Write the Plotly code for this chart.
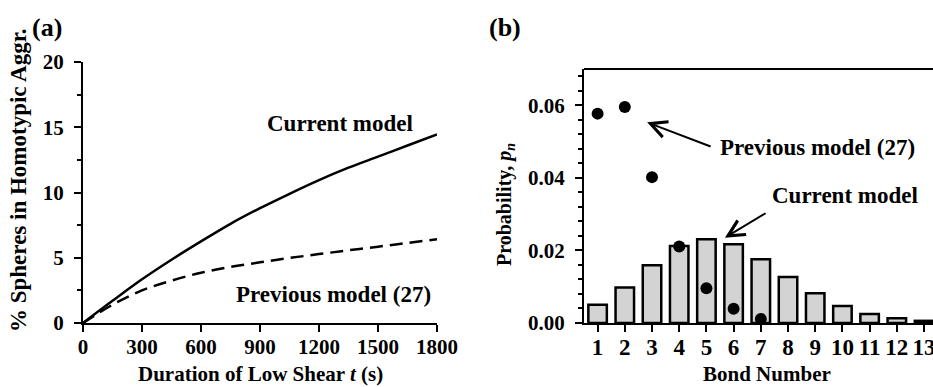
import plotly.graph_objects as go

# ---- Panel (a) data ----
t_s = [0, 150, 300, 450, 600, 750, 900, 1050, 1200, 1350, 1500, 1650, 1800]
current_pct = [0, 1.7, 3.35, 4.85, 6.25, 7.6, 8.8, 9.9, 10.95, 11.9, 12.75, 13.6, 14.45]
previous_pct = [0, 1.4, 2.5, 3.25, 3.85, 4.3, 4.65, 4.98, 5.28, 5.57, 5.85, 6.13, 6.42]
x_ticks_a = [0, 300, 600, 900, 1200, 1500, 1800]

# ---- Panel (b) data ----
bond_number = list(range(1, 14))
current_pn = [0.0050, 0.0098, 0.0159, 0.0212, 0.0231, 0.0217, 0.0176,
              0.0127, 0.0082, 0.0047, 0.0025, 0.0013, 0.0006]
prev_bonds = [1, 2, 3, 4, 5, 6, 7]
previous_pn = [0.0577, 0.0595, 0.0402, 0.0211, 0.0096, 0.0039, 0.0011]
y_ticks_b = [0.00, 0.02, 0.04, 0.06]

FONT = "Liberation Serif"
W, H = 933, 387

fig = go.Figure()

fig.add_trace(go.Scatter(x=t_s, y=current_pct, mode="lines", line=dict(color="black", width=2.5, shape="spline"),
                         xaxis="x", yaxis="y", showlegend=False))
fig.add_trace(go.Scatter(x=t_s, y=previous_pct, mode="lines",
                         line=dict(color="black", width=2.5, dash="13px,7px", shape="spline"),
                         xaxis="x", yaxis="y", showlegend=False))

fig.add_trace(go.Bar(x=bond_number, y=current_pn, width=0.68,
                     marker=dict(color="#d3d3d3", line=dict(color="black", width=2.5)),
                     xaxis="x2", yaxis="y2", showlegend=False))
fig.add_trace(go.Scatter(x=prev_bonds, y=previous_pn, mode="markers",
                         marker=dict(color="black", size=12),
                         xaxis="x2", yaxis="y2", showlegend=False, cliponaxis=False))

def px_x(p):
    return p / W

def px_y(p):
    return 1 - p / H

tickfont_a = dict(family=FONT, size=21, color="black", weight="bold")
axis_common = dict(showgrid=False, zeroline=False, showline=True, linecolor="black", linewidth=2,
                   ticks="outside", tickcolor="black", tickwidth=2, ticklen=7, automargin=False,
                   ticklabeloverflow="allow")

fig.update_layout(
    width=W, height=H, margin=dict(l=0, r=0, t=0, b=0, autoexpand=False),
    paper_bgcolor="white", plot_bgcolor="white",
    font=dict(family=FONT, color="black", weight="bold"),
    xaxis=dict(domain=[px_x(83), px_x(437)], range=[0, 1800], tickvals=x_ticks_a,
               tickfont=tickfont_a, anchor="y", ticklabelstandoff=-3, **axis_common),
    yaxis=dict(domain=[px_y(323), px_y(62)], range=[0, 20], tickvals=[0, 5, 10, 15, 20],
               tickfont=tickfont_a, anchor="x", ticklabelstandoff=6,
               minor=dict(dtick=2.5, ticks="outside", ticklen=4, tickwidth=1.5, tickcolor="black"),
               **axis_common),
    xaxis2=dict(domain=[px_x(584), 1.0], range=[0.5, 13.33], tickvals=bond_number,
                tickfont=dict(family=FONT, size=23, color="black", weight="bold"), anchor="y2",
                ticklabelstandoff=-5, **axis_common),
    yaxis2=dict(domain=[px_y(323), px_y(69)], range=[0, 0.07], tickvals=y_ticks_b, tickformat=".2f",
                tickfont=dict(family=FONT, size=21, color="black", weight="bold"), anchor="x2",
                ticklabelstandoff=6,
                minor=dict(dtick=0.004, tick0=0, ticks="outside", ticklen=4, tickwidth=1.5, tickcolor="black"),
                **axis_common),
)

# top frame line of panel (b)
fig.add_shape(type="line", xref="x2 domain", yref="y2 domain", x0=0, x1=1, y0=1, y1=1,
              line=dict(color="black", width=2))

ann_font = dict(family=FONT, size=23, color="black", weight="bold")
anns = [
    dict(text="(a)", x=px_x(47), y=px_y(28), xref="paper", yref="paper",
         font=dict(family=FONT, size=26, color="black", weight="bold")),
    dict(text="(b)", x=px_x(505), y=px_y(28), xref="paper", yref="paper",
         font=dict(family=FONT, size=26, color="black", weight="bold")),
    dict(text="% Spheres in Homotypic Aggr.", x=px_x(19), y=px_y(180), xref="paper", yref="paper",
         textangle=-90, font=dict(family=FONT, size=23, color="black", weight="bold")),
    dict(text="Duration of Low Shear <i>t</i> (s)", x=px_x(260), y=px_y(374), xref="paper", yref="paper",
         font=dict(family=FONT, size=21, color="black", weight="bold")),
    dict(text="Probability, <i>p</i><sub><i>n</i></sub>", x=px_x(505), y=px_y(205), xref="paper", yref="paper",
         textangle=-90, font=dict(family=FONT, size=20, color="black", weight="bold")),
    dict(text="Bond Number", x=px_x(767), y=px_y(374), xref="paper", yref="paper",
         font=dict(family=FONT, size=21, color="black", weight="bold")),
    dict(text="Current model", x=1307, y=15.3, xref="x", yref="y", font=ann_font),
    dict(text="Previous model (27)", x=1276, y=2.15, xref="x", yref="y", font=ann_font),
    dict(text="Previous model (27)", x=9.10, y=0.0484, xref="x2", yref="y2", font=ann_font),
    dict(text="Current model", x=10.1, y=0.0352, xref="x2", yref="y2", font=ann_font),
]
for a in anns:
    a.setdefault("showarrow", False)
    a.setdefault("xanchor", "center")
    a.setdefault("yanchor", "middle")
    fig.add_annotation(**a)

# arrows
fig.add_annotation(x=2.82, y=0.0553, ax=5.21, ay=0.0485, xref="x2", yref="y2", axref="x2", ayref="y2",
                   text="", showarrow=True, arrowhead=5, arrowsize=1.6, arrowwidth=2, arrowcolor="black")
fig.add_annotation(x=5.68, y=0.0235, ax=7.23, ay=0.0305, xref="x2", yref="y2", axref="x2", ayref="y2",
                   text="", showarrow=True, arrowhead=5, arrowsize=1.6, arrowwidth=2, arrowcolor="black")

fig.write_html("out.html")
